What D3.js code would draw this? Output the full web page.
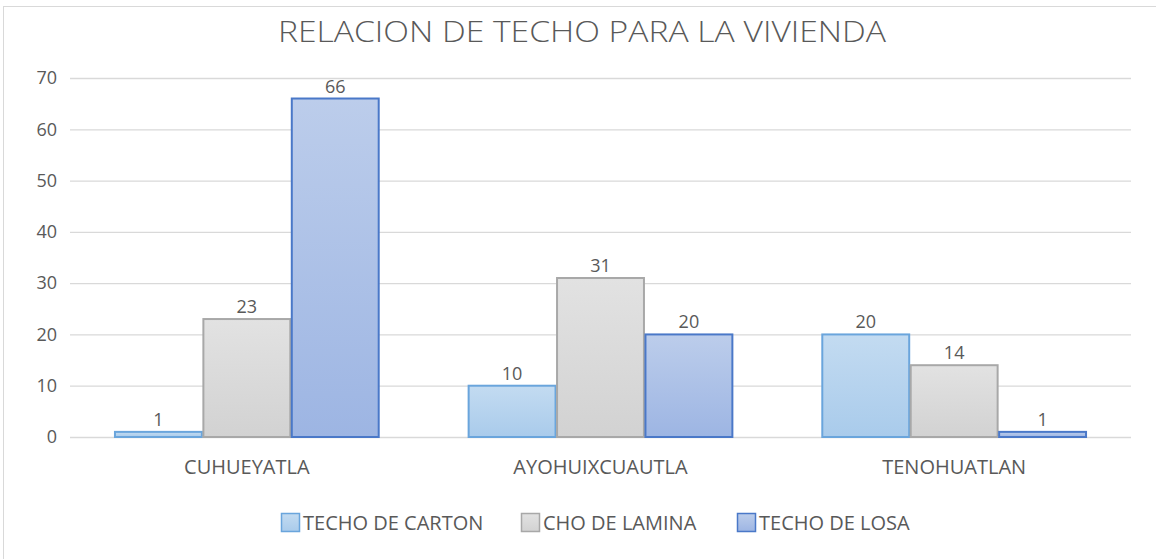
<!DOCTYPE html>
<html>
<head>
<meta charset="utf-8">
<script src="https://cdn.jsdelivr.net/npm/d3@7"></script>
<style>
body { margin: 0; background: #fff; }
svg text { font-family: "Open Sans", "Noto Sans", sans-serif; fill: #595959; }
</style>
</head>
<body>
<svg id="chart" width="1156" height="559"></svg>
<script>
var categories = ['CUHUEYATLA', 'AYOHUIXCUAUTLA', 'TENOHUATLAN'];
var seriesNames = ['TECHO DE CARTON', 'CHO DE LAMINA', 'TECHO DE LOSA'];
var carton = [1, 10, 20];
var lamina = [23, 31, 14];
var losa = [66, 20, 1];
var yTicks = [0, 10, 20, 30, 40, 50, 60, 70];

var series = [carton, lamina, losa];
var fills = [['#c3dbf1', '#a9cbeb'], ['#e2e2e2', '#d2d2d2'], ['#bccdeb', '#9db5e3']];
var strokes = ['#6aa5dc', '#a8a8a8', '#4a78c8'];

var svg = d3.select('#chart');
var margin = {left: 70, right: 1131, top: 78, bottom: 437};

var defs = svg.append('defs');
fills.forEach(function(f, i) {
	var g = defs.append('linearGradient')
		.attr('id', 'grad' + i)
		.attr('x1', 0).attr('y1', 0).attr('x2', 0).attr('y2', 1);
	g.append('stop').attr('offset', '0%').attr('stop-color', f[0]);
	g.append('stop').attr('offset', '100%').attr('stop-color', f[1]);
});

// chart frame
svg.append('rect')
	.attr('x', 3.5).attr('y', 6.5)
	.attr('width', 1160).attr('height', 560)
	.attr('fill', '#fff')
	.attr('stroke', '#d9d9d9');

var x0 = d3.scaleBand()
	.domain(categories)
	.range([margin.left, margin.right])
	.paddingInner(0.25)
	.paddingOuter(0.125);

var x1 = d3.scaleBand()
	.domain(d3.range(series.length))
	.range([0, x0.bandwidth()]);

var y = d3.scaleLinear()
	.domain([0, 70])
	.range([margin.bottom, margin.top]);

// gridlines
svg.append('g')
	.selectAll('line')
	.data(yTicks)
	.enter()
	.append('line')
	.attr('x1', margin.left)
	.attr('x2', margin.right)
	.attr('y1', d => y(d) + 0.5)
	.attr('y2', d => y(d) + 0.5)
	.attr('stroke', '#d9d9d9')
	.attr('stroke-width', 1.3);

var yAxis = d3.axisLeft(y).tickValues(yTicks).tickSize(0).tickPadding(0);
svg.append('g')
	.attr('transform', `translate(${margin.left - 13}, 0)`)
	.call(yAxis)
	.call(g => g.select('.domain').remove())
	.selectAll('text')
	.style('font-size', '18px')
	.attr('fill', '#595959');

var xAxis = d3.axisBottom(x0).tickSize(0).tickPadding(0);
svg.append('g')
	.attr('transform', `translate(0, ${margin.bottom + 23})`)
	.call(xAxis)
	.call(g => g.select('.domain').remove())
	.selectAll('text')
	.style('font-size', '20px')
	.attr('fill', '#595959');

var groups = svg.append('g')
	.selectAll('g')
	.data(categories)
	.enter()
	.append('g')
	.attr('transform', d => `translate(${x0(d)}, 0)`);

groups.selectAll('rect')
	.data((c, ci) => series.map((s, si) => ({si: si, v: s[ci]})))
	.enter()
	.append('rect')
	.attr('x', d => x1(d.si) + 0.75)
	.attr('width', x1.bandwidth() - 1.5)
	.attr('y', d => y(d.v))
	.attr('height', d => y(0) - y(d.v))
	.attr('fill', d => `url(#grad${d.si})`)
	.attr('stroke', d => strokes[d.si])
	.attr('stroke-width', 2);

groups.selectAll('.label')
	.data((c, ci) => series.map((s, si) => ({si: si, v: s[ci]})))
	.enter()
	.append('text')
	.attr('class', 'label')
	.attr('x', d => x1(d.si) + x1.bandwidth() / 2)
	.attr('y', d => y(d.v) - 6)
	.attr('text-anchor', 'middle')
	.style('font-size', '18px')
	.text(d => d.v);

svg.append('text')
	.attr('x', 582)
	.attr('y', 42)
	.attr('text-anchor', 'middle')
	.attr('textLength', 608)
	.attr('lengthAdjust', 'spacingAndGlyphs')
	.style('font-size', '29px')
	.style('font-weight', 300)
	.attr('fill', '#757575')
	.text('RELACION DE TECHO PARA LA VIVIENDA');

// legend
var legendX = [281, 521, 737];
var legend = svg.append('g')
	.selectAll('g')
	.data(seriesNames)
	.enter()
	.append('g')
	.attr('transform', (d, i) => `translate(${legendX[i]}, 513)`);

legend.append('rect')
	.attr('x', 0.5).attr('y', 0.5)
	.attr('width', 18).attr('height', 18)
	.attr('fill', (d, i) => `url(#grad${i})`)
	.attr('stroke', (d, i) => strokes[i])
	.attr('stroke-width', 1.5);

legend.append('text')
	.attr('x', 22)
	.attr('y', 17)
	.style('font-size', '20px')
	.text(d => d);
</script>
</body>
</html>
